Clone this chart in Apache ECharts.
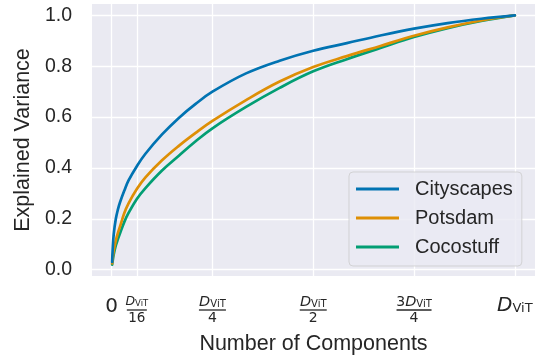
<!DOCTYPE html>
<html>
<head>
<meta charset="utf-8">
<script src="https://cdn.jsdelivr.net/npm/echarts@6/dist/echarts.min.js"></script>
<style>
  html, body { margin: 0; padding: 0; background: #ffffff; }
  #chart { width: 535px; height: 358px; }
</style>
</head>
<body>
<div id="chart"></div>
<script>
// ---- data ----
const components = [1, 2, 4, 8, 12, 16, 24, 32, 48, 64, 96, 128, 160, 192, 256, 320, 384, 448, 512, 576, 640, 704, 768];
const cityscapes = [0.03, 0.08, 0.14, 0.20, 0.237, 0.265, 0.31, 0.35, 0.407, 0.455, 0.532, 0.597, 0.652, 0.70, 0.772, 0.822, 0.861, 0.891, 0.921, 0.948, 0.97, 0.987, 1.0];
const potsdam    = [0.025, 0.045, 0.075, 0.115, 0.145, 0.17, 0.222, 0.26, 0.317, 0.362, 0.43, 0.487, 0.538, 0.585, 0.667, 0.74, 0.797, 0.84, 0.88, 0.92, 0.953, 0.98, 1.0];
const cocostuff  = [0.02, 0.035, 0.06, 0.095, 0.12, 0.143, 0.187, 0.222, 0.278, 0.32, 0.39, 0.448, 0.505, 0.556, 0.64, 0.715, 0.78, 0.828, 0.872, 0.915, 0.95, 0.978, 1.0];
const seriesNames = ['Cityscapes', 'Potsdam', 'Cocostuff'];
const xTickValues = [0, 48, 192, 384, 576, 768];
const xTickLabels = ['0', 'D/16', 'D/4', 'D/2', '3D/4', 'D'];
const yTickValues = [0, 0.2, 0.4, 0.6, 0.8, 1.0];

const colors = ['#0173B2', '#DE8F05', '#029E73'];
const txt = '#262626';
const mathFont = 'DejaVu Sans';
const textFont = 'Liberation Sans';

function richLabel(label) {
  if (label === '0') return '{zero|0}';
  if (label === 'D') return '{bigD|D}{bigSub|ViT}';
  if (label === 'D/16') return '{sn|D}{sns|ViT}\n{sbar| }\n{sden|16}';
  const parts = label.split('/');
  const num = parts[0] === '3D' ? '{n3|3}{n|D}{ns|ViT}' : '{n|D}{ns|ViT}';
  const bar = parts[0] === '3D' ? '{wbar| }' : '{bar| }';
  return num + '\n' + bar + '\n{den|' + parts[1] + '}';
}

const chart = echarts.init(document.getElementById('chart'), null, { renderer: 'canvas' });

function mk(values) { return components.map((c, i) => [c, values[i]]); }
const allValues = [cityscapes, potsdam, cocostuff];

const option = {
  animation: false,
  backgroundColor: '#ffffff',
  grid: {
    left: 92, right: 0, top: 4, bottom: 82,
    show: true, backgroundColor: '#EAEAF2', borderWidth: 0,
    containLabel: false, outerBoundsMode: 'none'
  },
  xAxis: {
    type: 'value',
    min: -37.4, max: 806.4,
    name: 'Number of Components',
    nameLocation: 'middle',
    nameGap: 57,
    nameTextStyle: { fontFamily: textFont, fontSize: 21.5, color: txt },
    axisLine: { show: false },
    axisTick: { show: false, customValues: xTickValues },
    splitLine: { show: true, lineStyle: { color: '#ffffff', width: 1.3 } },
    axisLabel: {
      customValues: xTickValues,
      margin: 20,
      color: txt,
      formatter: function (v) {
        const i = xTickValues.indexOf(v);
        return i >= 0 ? richLabel(xTickLabels[i]) : '';
      },
      rich: {
        zero: { fontFamily: mathFont, fontSize: 20, lineHeight: 20, color: txt, padding: [2, 0, 0, 0] },
        bigD: { fontFamily: mathFont, fontStyle: 'italic', fontSize: 20, lineHeight: 20, color: txt },
        bigSub: { fontFamily: mathFont, fontSize: 13, lineHeight: 20, color: txt, padding: [6, 0, 0, 0] },
        n: { fontFamily: mathFont, fontStyle: 'italic', fontSize: 14.5, lineHeight: 12, color: txt },
        n3: { fontFamily: mathFont, fontSize: 14, lineHeight: 12, color: txt },
        ns: { fontFamily: mathFont, fontSize: 10, lineHeight: 12, color: txt, padding: [4, 0, 0, 0] },
        bar: { width: 27, height: 1.3, lineHeight: 4, backgroundColor: txt, fontSize: 1 },
        wbar: { width: 35, height: 1.3, lineHeight: 4, backgroundColor: txt, fontSize: 1 },
        den: { fontFamily: mathFont, fontSize: 14, lineHeight: 13, color: txt },
        sn: { fontFamily: mathFont, fontStyle: 'italic', fontSize: 12.5, lineHeight: 12, color: txt },
        sns: { fontFamily: mathFont, fontSize: 8.5, lineHeight: 12, color: txt, padding: [4, 0, 0, 0] },
        sbar: { width: 20, height: 1.3, lineHeight: 4, backgroundColor: txt, fontSize: 1 },
        sden: { fontFamily: mathFont, fontSize: 13.5, lineHeight: 13, color: txt }
      }
    }
  },
  yAxis: {
    type: 'value',
    min: -0.025, max: 1.045,
    name: 'Explained Variance',
    nameLocation: 'middle',
    nameGap: 51,
    nameTextStyle: { fontFamily: textFont, fontSize: 21.5, color: txt },
    axisLine: { show: false },
    axisTick: { show: false, customValues: yTickValues },
    splitLine: { show: true, lineStyle: { color: '#ffffff', width: 1.3 } },
    axisLabel: {
      customValues: yTickValues,
      margin: 20,
      fontFamily: textFont, fontSize: 19.5, color: txt,
      formatter: function (v) { return v.toFixed(1); }
    }
  },
  legend: {
    data: seriesNames,
    orient: 'vertical',
    left: 349, top: 172,
    padding: [6, 9, 8, 7],
    itemWidth: 43, itemHeight: 3, itemGap: 7,
    icon: 'rect',
    backgroundColor: 'rgba(234,234,242,0.8)',
    borderColor: 'rgba(204,204,204,0.8)',
    borderWidth: 1, borderRadius: 4,
    textStyle: { fontFamily: textFont, fontSize: 20, lineHeight: 22, color: txt, padding: [0, 0, 0, 11] }
  },
  series: seriesNames.map((name, k) => ({
    name: name,
    type: 'line',
    data: mk(allValues[k]),
    showSymbol: false,
    symbol: 'none',
    smooth: 0.4,
    color: colors[k],
    lineStyle: { color: colors[k], width: 2.7, cap: 'round', join: 'round' },
    itemStyle: { color: colors[k] },
    z: 3 + (2 - k)
  }))
};
chart.setOption(option);
</script>
</body>
</html>
